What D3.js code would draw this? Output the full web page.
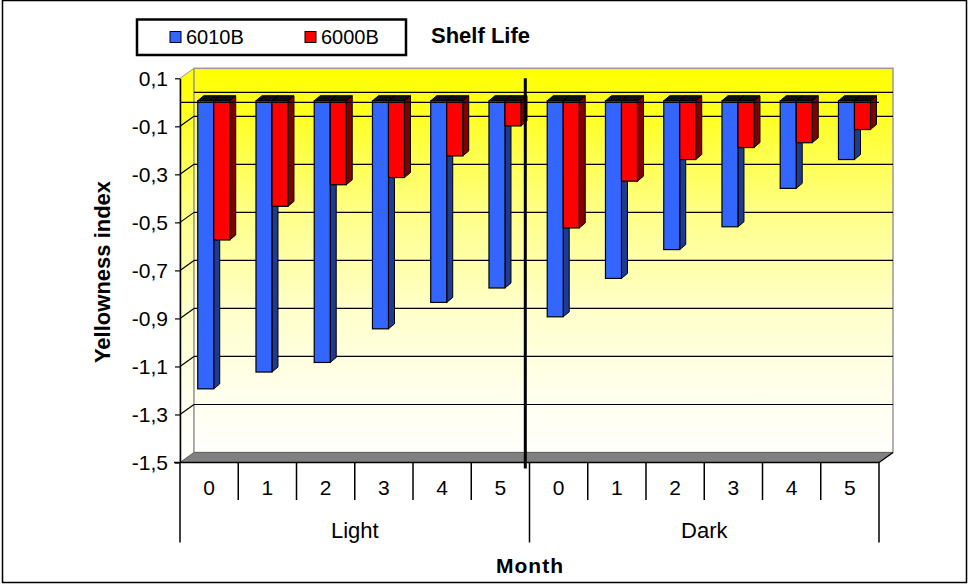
<!DOCTYPE html>
<html>
<head>
<meta charset="utf-8">
<script src="https://cdnjs.cloudflare.com/ajax/libs/d3/7.8.5/d3.min.js"></script>
<style>
    body { margin: 0; background: #fff; }
    text { font-family: Arial, "Liberation Sans", sans-serif; }
</style>
</head>
<body>
<svg id="chart" width="969" height="585"></svg>
<script>
// data
var months = ["0", "1", "2", "3", "4", "5"];
var groups = ["Light", "Dark"];
var seriesNames = ["6010B", "6000B"];
var seriesColors = ["#3366FF", "#FF0000"];
var sideColors = ["#1F3A8F", "#800000"];
// Light 0..5 then Dark 0..5
var values6010B = [-1.20, -1.13, -1.09, -0.95, -0.84, -0.78, -0.90, -0.74, -0.62, -0.525, -0.365, -0.245];
var values6000B = [-0.58, -0.44, -0.35, -0.32, -0.23, -0.105, -0.53, -0.335, -0.245, -0.195, -0.175, -0.12];
var yTicks = [0.1, -0.1, -0.3, -0.5, -0.7, -0.9, -1.1, -1.3, -1.5];

var svg = d3.select("#chart");

// note: "top" is taken by window.top, so plot edges get their own names
var plotL = 180, plotR = 879, plotT = 78.3, plotB = 462.5;
var wallDx = 14, wallDy = -10;      // depth of the walls
var barDx = 6, barDy = -5;          // depth of a column
var barShiftX = 4.6, barShiftY = -1.6;
var barW = 16;

var cats = d3.range(groups.length * months.length);
var x = d3.scaleBand().domain(cats).range([plotL, plotR]);
var y = d3.scaleLinear().domain([-1.5, 0.1]).range([plotB, plotT]);

// outer border
svg.append("rect")
    .attr("x", 2.5).attr("y", 0.5)
    .attr("width", 964).attr("height", 582)
    .attr("fill", "#fff").attr("stroke", "#000").attr("stroke-width", 1.5);

// wall gradient, yellow to white
var grad = svg.append("defs").append("linearGradient")
    .attr("id", "wallGrad")
    .attr("gradientUnits", "userSpaceOnUse")
    .attr("x1", 0).attr("x2", 0)
    .attr("y1", plotT + wallDy).attr("y2", plotB);
grad.append("stop").attr("offset", "0").attr("stop-color", "#FFFF00");
grad.append("stop").attr("offset", "0.1").attr("stop-color", "#FFFF1C");
grad.append("stop").attr("offset", "0.38").attr("stop-color", "#FFFF8C");
grad.append("stop").attr("offset", "0.62").attr("stop-color", "#FFFFCC");
grad.append("stop").attr("offset", "0.85").attr("stop-color", "#FFFFF0");
grad.append("stop").attr("offset", "1").attr("stop-color", "#FFFFFF");

function pts(a) {
    return a.map(function(p) { return p.join(","); }).join(" ");
}

// side wall (left)
svg.append("polygon")
    .attr("points", pts([[plotL, plotT], [plotL + wallDx, plotT + wallDy], [plotL + wallDx, plotB + wallDy], [plotL, plotB]]))
    .attr("fill", "url(#wallGrad)").attr("stroke", "#999").attr("stroke-width", 1);

// back wall
svg.append("rect")
    .attr("x", plotL + wallDx).attr("y", plotT + wallDy)
    .attr("width", plotR - plotL).attr("height", plotB - plotT)
    .attr("fill", "url(#wallGrad)").attr("stroke", "#999").attr("stroke-width", 1.5);

// gridlines on back wall and side wall
var gridVals = yTicks.filter(function(d) { return d < 0.1 && d > -1.5; });
svg.append("g").selectAll("line")
    .data(gridVals.concat([0]))
    .enter().append("line")
    .attr("x1", plotL + wallDx).attr("x2", plotR + wallDx)
    .attr("y1", function(d) { return y(d) + wallDy; })
    .attr("y2", function(d) { return y(d) + wallDy; })
    .attr("stroke", "#000").attr("stroke-width", 1.2);
svg.append("g").selectAll("line")
    .data(gridVals)
    .enter().append("line")
    .attr("x1", plotL).attr("x2", plotL + wallDx)
    .attr("y1", function(d) { return y(d); })
    .attr("y2", function(d) { return y(d) + wallDy; })
    .attr("stroke", "#000").attr("stroke-width", 1.2);

// floor
svg.append("polygon")
    .attr("points", pts([[plotL, plotB], [plotL + wallDx, plotB + wallDy], [plotR + wallDx, plotB + wallDy], [plotR, plotB]]))
    .attr("fill", "#808080").attr("stroke", "#666").attr("stroke-width", 1);

// columns
var barsG = svg.append("g").attr("class", "bars");
cats.forEach(function(c) {
    [values6010B, values6000B].forEach(function(vals, s) {
        var x0 = x(c) + x.bandwidth() / 2 + barShiftX - barW + s * barW;
        var x1 = x0 + barW;
        var y0 = y(0) + barShiftY;
        var y1 = y(vals[c]) + barShiftY;
        // side face
        barsG.append("polygon")
            .attr("points", pts([[x1, y0], [x1 + barDx, y0 + barDy], [x1 + barDx, y1 + barDy], [x1, y1]]))
            .attr("fill", sideColors[s]).attr("stroke", "#000").attr("stroke-width", 1).attr("stroke-linejoin", "round");
        // top face
        barsG.append("polygon")
            .attr("points", pts([[x0, y0], [x0 + barDx, y0 + barDy], [x1 + barDx, y0 + barDy], [x1, y0]]))
            .attr("fill", "#111").attr("stroke", "#000").attr("stroke-width", 1);
        // front face
        barsG.append("rect")
            .attr("x", x0).attr("y", y0)
            .attr("width", barW).attr("height", y1 - y0)
            .attr("fill", seriesColors[s]).attr("stroke", "#000").attr("stroke-width", 1.2);
    });
});

// front line at zero
svg.append("line")
    .attr("x1", plotL).attr("x2", plotR)
    .attr("y1", y(0)).attr("y2", y(0))
    .attr("stroke", "#000").attr("stroke-width", 1.2);

// y axis
var yAxis = d3.axisLeft(y)
    .tickValues(yTicks)
    .tickSizeInner(5).tickSizeOuter(0).tickPadding(7)
    .tickFormat(function(d) { return d3.format(".1f")(d).replace("\u2212", "-").replace(".", ","); });
var yG = svg.append("g")
    .attr("transform", "translate(" + plotL + ",0)")
    .call(yAxis);
yG.select(".domain").attr("stroke", "#000").attr("stroke-width", 1.5);
yG.selectAll(".tick line").attr("stroke", "#000").attr("stroke-width", 1.2);
yG.selectAll(".tick text").attr("font-size", 21).attr("fill", "#000")
    .style("font-family", "Arial, 'Liberation Sans', sans-serif");

// category axis
svg.append("line")
    .attr("x1", plotL - 6).attr("x2", plotR)
    .attr("y1", plotB).attr("y2", plotB)
    .attr("stroke", "#000").attr("stroke-width", 1.5);
svg.append("line")
    .attr("x1", plotR).attr("x2", plotR + wallDx)
    .attr("y1", plotB).attr("y2", plotB + wallDy)
    .attr("stroke", "#000").attr("stroke-width", 1.2);

var bounds = d3.range(cats.length + 1);
svg.append("g").selectAll("line")
    .data(bounds)
    .enter().append("line")
    .attr("x1", function(d) { return plotL + d * x.bandwidth(); })
    .attr("x2", function(d) { return plotL + d * x.bandwidth(); })
    .attr("y1", plotB)
    .attr("y2", function(d) { return d % months.length === 0 ? 542.5 : 500; })
    .attr("stroke", "#000").attr("stroke-width", 1.5);

svg.append("g").selectAll("text")
    .data(cats)
    .enter().append("text")
    .attr("x", function(d) { return x(d) + x.bandwidth() / 2; })
    .attr("y", 494.5)
    .attr("text-anchor", "middle")
    .attr("font-size", 21)
    .text(function(d) { return months[d % months.length]; });

svg.append("g").selectAll("text")
    .data(groups)
    .enter().append("text")
    .attr("x", function(d, i) { return x(i * months.length) + x.bandwidth() * months.length / 2; })
    .attr("y", 538)
    .attr("text-anchor", "middle")
    .attr("font-size", 22)
    .text(function(d) { return d; });

// divider between Light and Dark
svg.append("line")
    .attr("x1", 525.3).attr("x2", 525.3)
    .attr("y1", plotT).attr("y2", 468.5)
    .attr("stroke", "#000").attr("stroke-width", 3);

// axis titles
svg.append("text")
    .attr("x", 530).attr("y", 573)
    .attr("text-anchor", "middle")
    .attr("font-size", 21).attr("font-weight", "bold")
    .attr("letter-spacing", 1)
    .text("Month");

svg.append("text")
    .attr("transform", "translate(110,272) rotate(-90)")
    .attr("text-anchor", "middle")
    .attr("font-size", 22).attr("font-weight", "bold")
    .text("Yellowness index");

// legend
var legend = svg.append("g").attr("class", "legend");
legend.append("rect")
    .attr("x", 137).attr("y", 19.5)
    .attr("width", 269).attr("height", 35.5)
    .attr("fill", "#fff").attr("stroke", "#000").attr("stroke-width", 2.5);
var legX = [170, 305];
legend.selectAll("rect.key")
    .data(seriesNames)
    .enter().append("rect")
    .attr("class", "key")
    .attr("x", function(d, i) { return legX[i]; })
    .attr("y", 31.5)
    .attr("width", 11).attr("height", 11)
    .attr("fill", function(d, i) { return seriesColors[i]; })
    .attr("stroke", "#000").attr("stroke-width", 1);
legend.selectAll("text")
    .data(seriesNames)
    .enter().append("text")
    .attr("x", function(d, i) { return legX[i] + 16; })
    .attr("y", 43.5)
    .attr("font-size", 20)
    .text(function(d) { return d; });

svg.append("text")
    .attr("x", 431).attr("y", 42.5)
    .attr("font-size", 22).attr("font-weight", "bold")
    .text("Shelf Life");
</script>
</body>
</html>
